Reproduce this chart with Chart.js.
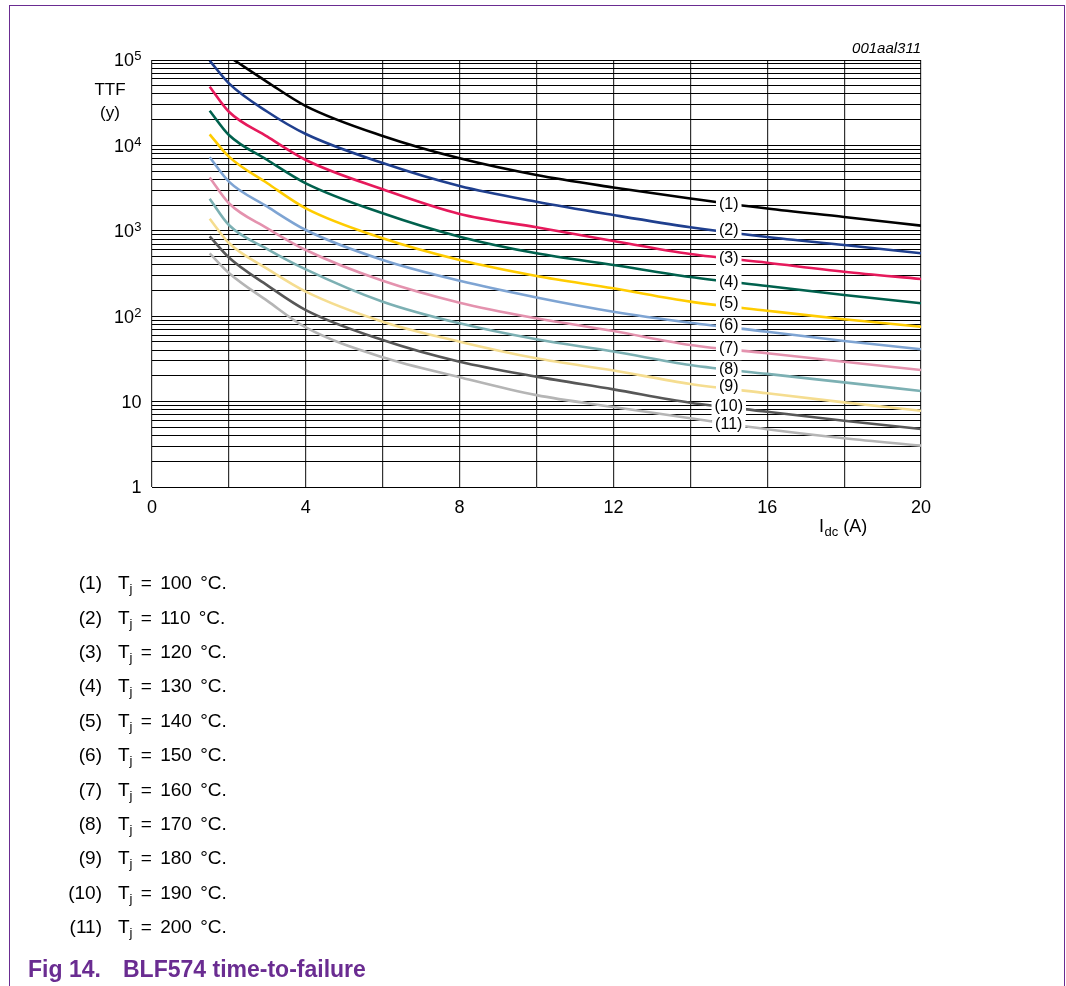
<!DOCTYPE html>
<html><head><meta charset="utf-8">
<script src="https://cdn.jsdelivr.net/npm/chart.js@4.4.1/dist/chart.umd.min.js"></script>
<style>
html,body{margin:0;padding:0;background:#fff;}
#wrap{position:relative;width:1066px;height:986px;overflow:hidden;background:#fff;}
#frame{position:absolute;left:9px;top:5px;width:1056px;height:1000px;border:1.5px solid #6a2c91;border-bottom:none;box-sizing:border-box;}
canvas{position:absolute;left:0;top:0;}
.t{position:absolute;line-height:1;font-family:'Liberation Sans',Arial,Helvetica,sans-serif;white-space:pre;color:#000;}
.t sub{font-size:13px;vertical-align:-4px;line-height:0;}
.num{text-align:right;width:102px;left:0;}
.cap{color:#6a2c91;font-weight:bold;font-size:23px;}
</style>
</head><body>
<div id="wrap">
<div id="frame"></div>
<canvas id="c" width="1066" height="986"></canvas>
<div id="legend"></div>
<div class="t cap" style="left:28px;top:957.8px;">Fig 14.</div>
<div class="t cap" style="left:123px;top:957.8px;">BLF574 time-to-failure</div>
</div>
<script>
// ---- data ----
const currentA   = [1.5, 2, 3, 4, 6, 8, 10, 12, 14, 16, 18, 20];
const currentTop = [2.13, 3, 4, 6, 8, 10, 12, 14, 16, 18, 20];
const ttf100 = [100000, 55200, 28900, 12900, 7060, 4500, 3220, 2390, 1824, 1452, 1148];
const ttf110 = [98200, 53300, 24800, 13600, 6220, 3350, 2190, 1530, 1100, 846, 682, 545];
const ttf120 = [48700, 24800, 12650, 6750, 3060, 1573, 1099, 760, 535, 423, 332, 273];
const ttf130 = [25500, 13240, 6750, 3600, 1603, 853, 545, 398, 288, 226, 177, 142];
const ttf140 = [13490, 7380, 3600, 1834, 817, 455, 296, 212, 148, 116, 92, 75.3];
const ttf150 = [7260, 3760, 1915, 1021, 455, 260, 166, 113, 84, 65.9, 51.3, 41];
const ttf160 = [4210, 2100, 1070, 596, 260, 144, 94.5, 67.1, 46, 36.8, 29.3, 23.4];
const ttf170 = [2377, 1169, 612, 354, 148, 82.6, 53.6, 38.6, 26.8, 21.1, 16.8, 13.3];
const ttf180 = [1386, 720, 359, 194, 86.2, 50.3, 32.1, 23.1, 16.1, 12.5, 9.8, 7.82];
const ttf190 = [862, 487, 230, 118, 52.6, 29.3, 19.6, 13.9, 9.71, 7.62, 5.98, 4.78];
const ttf200 = [545, 321, 151, 73.8, 33, 19.3, 11.9, 8.64, 6.37, 4.74, 3.72, 3.05];
const curveTags = ['(1)','(2)','(3)','(4)','(5)','(6)','(7)','(8)','(9)','(10)','(11)'];
const junctionTempC = [100, 110, 120, 130, 140, 150, 160, 170, 180, 190, 200];
const tagCurrent = 15;
const tagTTF = [2005, 1003, 468, 247, 139, 76.8, 42.1, 23.9, 14.9, 8.71, 5.32];
const xTickLabels = [0, 4, 8, 12, 16, 20];
const yDecades = [1, 10, 100, 1000, 10000, 100000];
const yDecadeExp = [0, 1, 2, 3, 4, 5];
const yMinorMult = [1, 2, 3, 4, 5, 6, 7, 8, 9];
const figId = '001aal311';

const colors = ['#000000','#1f3f8e','#e6195b','#00614d','#ffcc00','#7ea4d3','#e492ae','#7cb0b3','#f5dd90','#575757','#b5b5b5'];
const series = [ttf100, ttf110, ttf120, ttf130, ttf140, ttf150, ttf160, ttf170, ttf180, ttf190, ttf200];

const FONT = "'Liberation Sans', Arial, Helvetica, sans-serif";

// legend list (HTML text)
const legend = document.getElementById('legend');
junctionTempC.forEach((t, i) => {
  const base = 589.3 + 34.4 * i;
  const top = base - 0.8465 * 19;
  const n = document.createElement('div');
  n.className = 't num'; n.style.fontSize = '19px'; n.style.top = top + 'px';
  n.textContent = curveTags[i];
  legend.appendChild(n);
  const d = document.createElement('div');
  d.className = 't'; d.style.fontSize = '19px'; d.style.top = top + 'px'; d.style.left = '118px';
  d.style.wordSpacing = '3px';
  d.innerHTML = 'T<sub>j</sub> = ' + t + ' \u00B0C.';
  legend.appendChild(d);
});

const datasets = series.map((s, i) => {
  const xs = (i === 0) ? currentTop : currentA;
  return {
    label: curveTags[i],
    data: s.map((v, k) => ({x: xs[k], y: v})),
    borderColor: colors[i],
    backgroundColor: colors[i],
    borderWidth: 2.6,
    pointRadius: 0,
    fill: false,
    cubicInterpolationMode: 'monotone',
    clip: 0
  };
});

const yTickValues = [];
yDecades.forEach(d => yMinorMult.forEach(m => { const v = d * m; if (v <= 100000) yTickValues.push(v); }));

const overlay = {
  id: 'overlay',
  afterDatasetsDraw(chart) {
    const ctx = chart.ctx, xs = chart.scales.x, ys = chart.scales.y, ca = chart.chartArea;
    ctx.save();
    // curve tags with white boxes
    ctx.font = '16px ' + FONT;
    ctx.textAlign = 'center';
    ctx.textBaseline = 'alphabetic';
    curveTags.forEach((tag, i) => {
      const px = xs.getPixelForValue(tagCurrent);
      const py = ys.getPixelForValue(tagTTF[i]);
      const w = ctx.measureText(tag).width + 6;
      ctx.fillStyle = '#fff';
      ctx.fillRect(px - w / 2, py - 8.5, w, 17);
      ctx.fillStyle = '#000';
      ctx.fillText(tag, px, py + 4.3);
    });
    // x tick labels
    ctx.font = '18px ' + FONT;
    ctx.textAlign = 'center';
    xTickLabels.forEach(v => {
      ctx.fillText(String(v), xs.getPixelForValue(v), ca.bottom + 26.3);
    });
    // y tick labels with superscripts
    const rightEdge = ca.left - 10.5;
    yDecades.forEach((v, i) => {
      const py = ys.getPixelForValue(v);
      const e = yDecadeExp[i];
      if (e <= 1) {
        ctx.font = '18px ' + FONT; ctx.textAlign = 'right';
        ctx.fillText(e === 0 ? '1' : '10', rightEdge, py + 6.4);
      } else {
        ctx.font = '13px ' + FONT; ctx.textAlign = 'right';
        const sup = String(e);
        const sw = ctx.measureText(sup).width;
        ctx.fillText(sup, rightEdge, py + 0.3);
        ctx.font = '18px ' + FONT;
        ctx.fillText('10', rightEdge - sw - 0.3, py + 6.4);
      }
    });
    // y axis title
    ctx.font = '17px ' + FONT; ctx.textAlign = 'center';
    ctx.fillText('TTF', ca.left - 42, ca.top + 35);
    ctx.fillText('(y)', ca.left - 42, ca.top + 58);
    // x axis title: I_dc (A)
    ctx.textAlign = 'left';
    ctx.font = '18px ' + FONT;
    const ax = ca.right - 102;
    const ab = ca.bottom + 44.7;
    ctx.fillText('I', ax, ab);
    const iw = ctx.measureText('I').width;
    ctx.font = '13px ' + FONT;
    ctx.fillText('dc', ax + iw + 0.5, ab + 4);
    const dw = ctx.measureText('dc').width;
    ctx.font = '18px ' + FONT;
    ctx.fillText(' (A)', ax + iw + 0.5 + dw, ab);
    // figure id
    ctx.font = 'italic 15px ' + FONT; ctx.textAlign = 'right';
    ctx.fillText(figId, ca.right, ca.top - 7.5);
    ctx.restore();
  }
};

new Chart(document.getElementById('c'), {
  type: 'line',
  data: { datasets },
  plugins: [overlay],
  options: {
    responsive: false,
    animation: false,
    devicePixelRatio: 1,
    layout: { padding: { left: 152, top: 60, right: 145, bottom: 499 } },
    plugins: { legend: { display: false }, tooltip: { enabled: false } },
    scales: {
      x: {
        type: 'linear', min: 0, max: 20,
        ticks: { display: false, stepSize: 2 },
        grid: { color: '#333', lineWidth: 1.2, drawTicks: false },
        border: { display: false }
      },
      y: {
        type: 'logarithmic', min: 1, max: 100000,
        afterBuildTicks: (scale) => { scale.ticks = yTickValues.map(v => ({ value: v })); },
        ticks: { display: false, autoSkip: false },
        grid: { color: '#000', lineWidth: 1, drawTicks: false },
        border: { display: false }
      }
    }
  }
});
</script>
</body></html>
